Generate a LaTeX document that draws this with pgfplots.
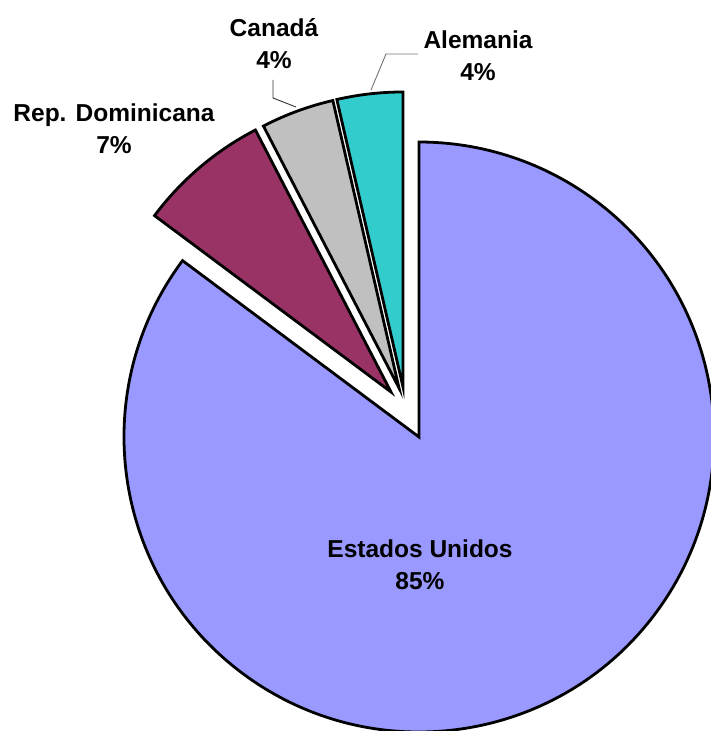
\documentclass[border=0pt]{standalone}
\usepackage{fontspec}
\setmainfont{Liberation Sans}
\usepackage{pgfplots}
\pgfplotsset{compat=1.18}
\definecolor{cUS}{HTML}{9999FF}
\definecolor{cRD}{HTML}{993366}
\definecolor{cCA}{HTML}{C0C0C0}
\definecolor{cAL}{HTML}{33CCCC}
% shares (percent)
\def\vAL{3.6}
\def\vCA{4.0}
\def\vRD{7.2}
\def\vUS{85.2}
\begin{document}
\begin{tikzpicture}
\pgfmathsetmacro\aA{90}
\pgfmathsetmacro\aB{\aA+3.6*\vAL}
\pgfmathsetmacro\aC{\aB+3.6*\vCA}
\pgfmathsetmacro\aD{\aC+3.6*\vRD}
\pgfmathsetmacro\aE{\aD+3.6*\vUS}
\begin{axis}[
  width=711bp, height=731bp, scale only axis,
  xmin=0, xmax=711, ymin=0, ymax=731,
  hide axis, clip=false,
]
\def\R{295bp}
% Estados Unidos
\draw[fill=cUS, line width=2.8bp, line join=miter]
  (axis cs:419,294) -- ++(\aD:\R) arc[start angle=\aD, end angle=\aE, radius=\R] -- cycle;
% Rep. Dominicana
\draw[fill=cRD, line width=2.8bp, line join=miter]
  (axis cs:391,339) -- ++(\aC:\R) arc[start angle=\aC, end angle=\aD, radius=\R] -- cycle;
% Canada
\draw[fill=cCA, line width=2.8bp, line join=miter]
  (axis cs:399,343) -- ++(\aB:\R) arc[start angle=\aB, end angle=\aC, radius=\R] -- cycle;
% Alemania
\draw[fill=cAL, line width=2.8bp, line join=miter]
  (axis cs:403,344) -- ++(\aA:\R) arc[start angle=\aA, end angle=\aB, radius=\R] -- cycle;
% leader lines
\draw[black!80, line width=0.9bp] (axis cs:273,651) -- (axis cs:273,633) -- (axis cs:296,624);
\draw[black!55, line width=0.9bp] (axis cs:418,677) -- (axis cs:386,677) -- (axis cs:371,641);
% labels
\tikzset{lab/.style={font=\fontsize{24.6}{32}\selectfont\bfseries, align=center, inner sep=0pt}}
\node[lab] at (axis cs:420,166) {Estados Unidos\\85\%};
\node[lab] at (axis cs:114,602) {Rep. Dominicana\\7\%};
\node[lab] at (axis cs:274,687) {Canadá\\4\%};
\node[lab] at (axis cs:478,675) {Alemania\\4\%};
\end{axis}
\pgfresetboundingbox
\path (current axis.south west) rectangle (current axis.north east);
\end{tikzpicture}
\end{document}
